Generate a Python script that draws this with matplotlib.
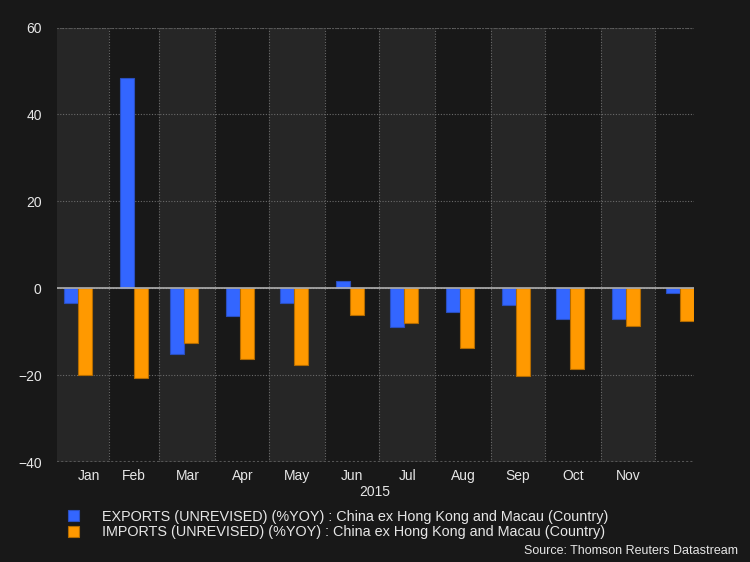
import matplotlib
matplotlib.use("Agg")
import matplotlib.pyplot as plt
import matplotlib.dates as mdates
import numpy as np
import datetime as dt

months = ["Jan", "Feb", "Mar", "Apr", "May", "Jun", "Jul", "Aug", "Sep", "Oct", "Nov", "Dec"]
tick_labels = ["Jan", "Feb", "Mar", "Apr", "May", "Jun", "Jul", "Aug", "Sep", "Oct", "Nov"]
exports = [-3.4, 48.3, -15.2, -6.5, -3.4, 1.7, -9.0, -5.5, -3.8, -7.0, -7.0, -1.2]
imports = [-19.9, -20.6, -12.6, -16.2, -17.7, -6.1, -8.0, -13.7, -20.3, -18.7, -8.6, -7.6]
year = 2015
exp_label = "EXPORTS (UNREVISED) (%YOY) : China ex Hong Kong and Macau (Country)"
imp_label = "IMPORTS (UNREVISED) (%YOY) : China ex Hong Kong and Macau (Country)"
source = "Source: Thomson Reuters Datastream"

BG = "#181818"
BAND = "#262626"
BLUE = "#3366ff"
ORANGE = "#ff9900"
TXT = "#e6e6e6"

plt.rcParams['font.family'] = ['Liberation Sans', 'DejaVu Sans']

fig = plt.figure(figsize=(7.5, 5.62), dpi=100, facecolor=BG)
ax = fig.add_axes([57/750, 1-462/562, (694-57)/750, (462-27.5)/562])
ax.set_facecolor(BG)

firsts = [dt.datetime(year, m, 1) for m in range(1, 13)]
centers = np.array([mdates.date2num(f) + 13.8 for f in firsts])
w = 7.8

x_left = mdates.date2num(dt.datetime(year, 1, 1)) + 2.15
x_right = centers[-1] + w

# alternating bands
edges = [mdates.date2num(f) for f in firsts] + [mdates.date2num(dt.datetime(year + 1, 1, 1))]
for i in range(12):
    if i % 2 == 0:
        ax.axvspan(edges[i], edges[i + 1], color=BAND, zorder=0, lw=0)

ax.bar(centers - w / 2, exports, width=w, color=BLUE, edgecolor="#2a4fbf", linewidth=0.8, zorder=3, label=exp_label)
ax.bar(centers + w / 2, imports, width=w, color=ORANGE, edgecolor="#b36b00", linewidth=0.8, zorder=3, label=imp_label)

ax.axhline(0, color="#b0b0b0", lw=1.2, zorder=4)

ax.set_xlim(x_left, x_right)
ax.set_ylim(-40, 60)
ax.set_yticks([-40, -20, 0, 20, 40, 60])

# gridlines at month starts
ax.set_xticks(edges[1:12])
ax.set_xticklabels([])
ax.tick_params(axis='x', which='major', length=0)
ax.grid(True, which='major', color="#6a6a6a", linestyle=(0, (1, 1.5)), linewidth=0.8, zorder=1)

# month labels at band centers
label_pos = [(edges[i] + edges[i + 1]) / 2 for i in range(11)]
label_pos[0] = x_left + (edges[1] - x_left) * 0.62
ax.set_xticks(label_pos, minor=True)
ax.set_xticklabels(tick_labels, minor=True)
ax.tick_params(axis='x', which='minor', length=0, colors=TXT, labelsize=10, pad=5)
ax.tick_params(axis='y', length=0, colors=TXT, labelsize=10, pad=11)

for s in ax.spines.values():
    s.set_visible(False)
ax.axhline(-40, color="#555555", lw=1.5, linestyle=(0, (1, 1)), zorder=2)
ax.axhline(60, color="#555555", lw=1.5, linestyle=(0, (1, 1)), zorder=2)

fig.text(375/750, 1 - 492/562, str(year), color=TXT, fontsize=10, ha='center', va='center')

leg = fig.legend(loc='upper left', bbox_to_anchor=(62/750, 1 - 504/562), frameon=False,
                 fontsize=10.4, labelcolor=TXT, handlelength=0.8, handleheight=0.8,
                 handletextpad=1.55, labelspacing=0.1, borderaxespad=0)

fig.text(738/750, 1 - 551/562, source, color=TXT, fontsize=9, ha='right', va='center')

fig.savefig("out.png", dpi=100, facecolor=BG)
